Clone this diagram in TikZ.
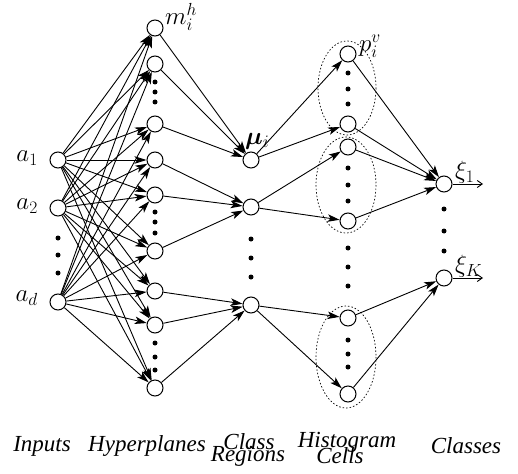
\RequirePackage{fix-cm}
\documentclass[tikz,border=0pt]{standalone}
\usepackage{bm}
\usepackage{fontspec}
\setmainfont{Liberation Serif}
\usetikzlibrary{arrows.meta}
\begin{document}
\begin{tikzpicture}[x=1pt,y=-1pt,
  neuron/.style={circle,draw,line width=1pt,minimum size=16pt,inner sep=0pt},
  edge/.style={line width=0.9pt,-{Stealth[length=12pt,width=7.5pt,inset=3pt]}},
  outarrow/.style={line width=0.9pt,-{Straight Barb[length=5pt,width=7pt]}},
  vdot/.style={circle,fill,inner sep=0pt,minimum size=5pt},
  region/.style={draw,line width=0.7pt,dash pattern=on 1.5pt off 2pt},
  mlabel/.style={font=\fontsize{25}{25}\selectfont,inner sep=0pt},
  tlabel/.style={font=\fontsize{23}{23}\selectfont\itshape,inner sep=0pt}
]
\useasboundingbox (0,0) rectangle (518,473);
% inputs
\node[neuron] (i1) at (58,160) {};
\node[neuron] (i2) at (58,208) {};
\node[neuron] (i3) at (58,302) {};
% hyperplanes
\foreach \n/\yy in {1/28,2/64,3/124,4/160,5/195,6/251,7/291,8/325,9/388}
  \node[neuron] (h\n) at (155,\yy) {};
% class regions
\node[neuron] (c1) at (251,160) {};
\node[neuron] (c2) at (251,207) {};
\node[neuron] (c3) at (251,305) {};
% histogram cells
\foreach \n/\yy in {1/54,2/124,3/147,4/221,5/318,6/394}
  \node[neuron] (p\n) at (348,\yy) {};
% classes
\node[neuron] (k1) at (444,184) {};
\node[neuron] (k2) at (444,278) {};
% dotted regions
\draw[region] (347,88) ellipse [x radius=29, y radius=47];
\draw[region] (346,185) ellipse [x radius=30, y radius=48];
\draw[region] (346,357) ellipse [x radius=30, y radius=51];
% vertical dots
\foreach \p in {(58,238),(58,255),(58,273),
  (155,82),(155,92),(155,102),(155,212),(155,222),(155,233),(155,343),(155,357),(155,370),
  (251,239),(251,258),(251,277),
  (348,73),(348,89),(348,104),(348,168),(348,185),(348,201),(348,248),(348,267),(348,286),(348,340),(348,354),(348,367),
  (444,209),(444,231),(444,251)}
  \node[vdot] at \p {};
% inputs to hyperplanes
\foreach \i in {1,2,3}
  \foreach \h in {1,...,9}
    \draw[edge] (i\i) -- (h\h);
% hyperplanes to class regions
\foreach \h in {1,2,3} \draw[edge] (h\h) -- (c1);
\foreach \h in {4,5,6} \draw[edge] (h\h) -- (c2);
\foreach \h in {7,8,9} \draw[edge] (h\h) -- (c3);
% class regions to histogram cells
\draw[edge] (c1) -- (p1);
\draw[edge] (c1) -- (p2);
\draw[edge] (c2) -- (p3);
\draw[edge] (c2) -- (p4);
\draw[edge] (c3) -- (p5);
\draw[edge] (c3) -- (p6);
% histogram cells to classes
\foreach \p in {1,2,3,4} \draw[edge] (p\p) -- (k1);
\foreach \p in {5,6} \draw[edge] (p\p) -- (k2);
% outputs
\coordinate (o1) at (483,184);
\coordinate (o2) at (483,278);
\draw[outarrow] (k1) -- (o1);
\draw[outarrow] (k2) -- (o2);
% math labels
\node[mlabel,anchor=east] (la1) at (38,158) {$a_1$};
\node[mlabel,anchor=east] (la2) at (38,206) {$a_2$};
\node[mlabel,anchor=east] (la3) at (38,298) {$a_d$};
\node[mlabel,anchor=west] (lm) at (165,17) {$m_i^h$};
\node[mlabel,anchor=west] (lmu) at (245,141) {$\bm{\mu}_i$};
\node[mlabel,anchor=west] (lp) at (359,46) {$p_i^v$};
\node[mlabel,anchor=west] (lx1) at (455,172) {$\xi_1$};
\node[mlabel,anchor=west] (lxk) at (455,266) {$\xi_K$};
% bottom labels
\node[tlabel] (t1) at (42,446) {Inputs};
\node[tlabel] (t2) at (147,446) {Hyperplanes};
\node[tlabel] (t3a) at (249,442) {Class};
\node[tlabel] (t3b) at (248,456) {Regions};
\node[tlabel] (t4a) at (347,442) {Histogram};
\node[tlabel] (t4b) at (340,456) {Cells};
\node[tlabel] (t5) at (466,446) {Classes};
\end{tikzpicture}
\end{document}
